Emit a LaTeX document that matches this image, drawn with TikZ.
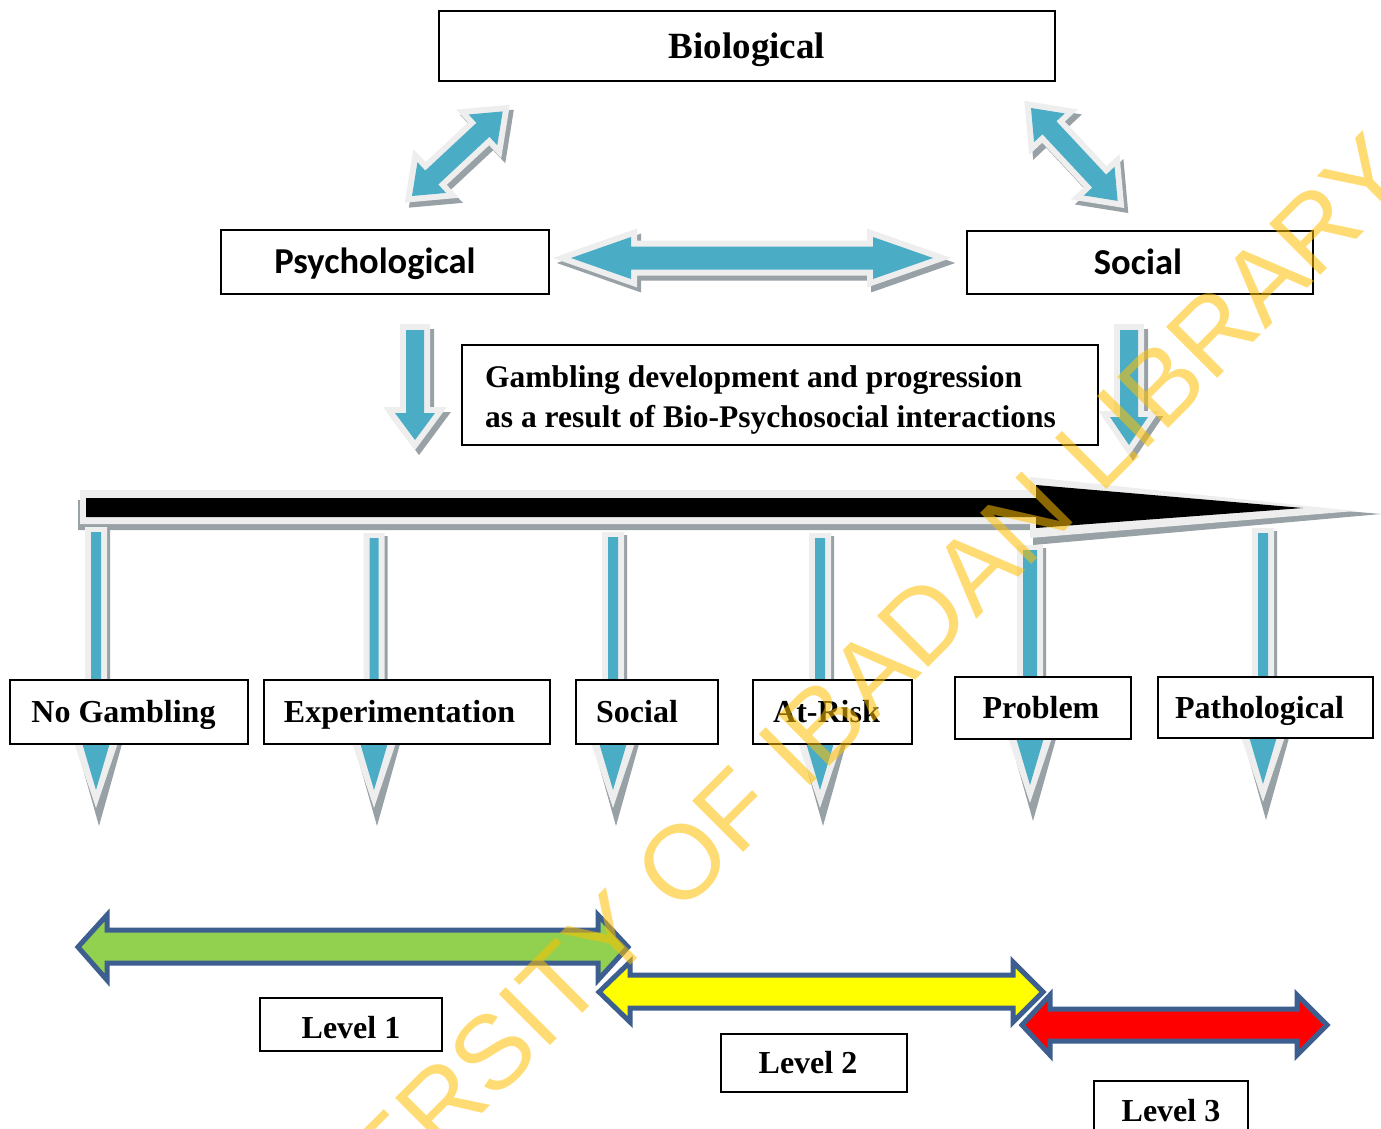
\documentclass[tikz,border=0pt]{standalone}
\usepackage{fontspec}
\setmainfont{Liberation Serif}
\newfontfamily\calibfont{Carlito}
\newfontfamily\wmfont{Liberation Sans}
\definecolor{arrowblue}{HTML}{4BACC6}
\definecolor{lgt}{HTML}{EEEEEE}
\definecolor{shd}{HTML}{98A1A6}
\definecolor{lvlline}{HTML}{3D5F8F}
\definecolor{lvlgreen}{HTML}{92D050}
\definecolor{lvlyellow}{HTML}{FFFF00}
\definecolor{lvlred}{HTML}{FF0000}
\definecolor{wm}{HTML}{FFC000}
% double block arrow along x: length, shaft half-width, head half-width, head length
\newcommand{\dblpoly}[4]{(0,0) -- (#4,#3) -- (#4,#2) -- ({#1-#4},#2) -- ({#1-#4},#3) -- (#1,0) -- ({#1-#4},-#3) -- ({#1-#4},-#2) -- (#4,-#2) -- (#4,-#3) -- cycle}
% single block arrow along x
\newcommand{\sglpoly}[4]{(0,#2) -- ({#1-#4},#2) -- ({#1-#4},#3) -- (#1,0) -- ({#1-#4},-#3) -- ({#1-#4},-#2) -- (0,-#2) -- cycle}
\newcommand{\blockarrow}[3]{%
  \begin{scope}[shift={(4,5)}]
    \begin{scope}[shift={#1},rotate=#2]
      \path[fill=shd,draw=shd,line width=12pt,line join=miter] #3;
    \end{scope}
  \end{scope}
  \begin{scope}[shift={#1},rotate=#2]
    \path[fill=lgt,draw=lgt,line width=12pt,line join=miter] #3;
    \path[fill=arrowblue] #3;
  \end{scope}}
% stage arrow: centre x, top y, box bottom y, stem half-width
\newcommand{\stagearrow}[4]{%
  \fill[shd] ({#1-#4-3},{#2-2}) -- ({#1+#4+9},{#2-2}) -- ({#1+#4+9},{#3-25}) -- ({#1+33},{#3-25}) -- ({#1+3},{#3+82}) -- ({#1-27},{#3-25}) -- ({#1-#4-3},{#3-25}) -- cycle;
  \fill[lgt] ({#1-#4-6},{#2-5}) -- ({#1+#4+6},{#2-5}) -- ({#1+#4+6},{#3-25}) -- ({#1+30},{#3-25}) -- (#1,{#3+64}) -- ({#1-30},{#3-25}) -- ({#1-#4-6},{#3-25}) -- cycle;
  \fill[arrowblue] ({#1-#4},#2) -- ({#1+#4},#2) -- ({#1+#4},{#3-25}) -- ({#1+21},{#3-25}) -- (#1,{#3+46}) -- ({#1-21},{#3-25}) -- ({#1-#4},{#3-25}) -- cycle;}
% shift a centred label to the left by half of #1 pt
\newcommand{\shl}[2]{\hspace*{-#1pt}#2}
\tikzset{
  boxbase/.style={draw=black, line width=1.5pt, fill=white, inner sep=0pt},
  serifbox/.style={boxbase, font=\fontsize{32}{38}\selectfont\bfseries, text height=21pt, text depth=0pt},
  biobox/.style={boxbase, font=\fontsize{37}{42}\selectfont\bfseries, text height=24.5pt, text depth=0pt},
  calibbox/.style={boxbase, font=\calibfont\bfseries\fontsize{36.5}{40}\selectfont, text height=23pt, text depth=0pt},
  gtext/.style={inner sep=0pt, font=\fontsize{31.5}{40}\selectfont\bfseries, align=left},
  lvlarrow/.style={draw=lvlline, line width=5pt, line join=miter}
}
\begin{document}
\begin{tikzpicture}[x=1pt, y=-1pt]
\useasboundingbox (0,0) rectangle (1381,1129);
\clip (0,0) rectangle (1381,1129);
\fill[white] (0,0) rectangle (1381,1129);

% ---- top block arrows ----
\blockarrow{(412,196)}{43}{\dblpoly{124}{9.5}{21}{27}}
\blockarrow{(1031,108)}{-47}{\dblpoly{127}{9.5}{21}{27}}
\blockarrow{(571,258)}{0}{\dblpoly{362}{11.5}{21}{60}}
\blockarrow{(415,330)}{-90}{\sglpoly{110}{9}{20}{27}}
\blockarrow{(1129,330)}{-90}{\sglpoly{115}{9}{19}{28}}

% ---- top boxes ----
\node[biobox, minimum width=616pt, minimum height=70pt] (bio) at (747,46) {Biological};
\node[calibbox, minimum width=328pt, minimum height=64pt] (psy) at (385,262) {\shl{20}{Psychological}};
\node[calibbox, minimum width=346pt, minimum height=63pt] (soc) at (1140,262.5) {\shl{4}{Social}};
\node[boxbase, minimum width=636pt, minimum height=100pt] (gamb) at (780,395) {};
\node[gtext, anchor=north west] (gambtext) at (485,365) {Gambling development and progression\\as a result of Bio-Psychosocial interactions};

% ---- black time-line arrow ----
\fill[shd] (78,500) -- (1033,500) -- (1033,484) -- (1381,514) -- (1033,545) -- (1033,530) -- (78,530) -- cycle;
\fill[lgt] (80,490) -- (1030,490) -- (1030,477) -- (1355,511) -- (1030,538) -- (1030,524) -- (80,524) -- cycle;
\fill[black] (86,498) -- (1036,498) -- (1036,485) -- (1303,508) -- (1036,528) -- (1036,517) -- (86,517) -- cycle;

% ---- stage arrows ----
\stagearrow{96}{532}{744}{5}
\stagearrow{374}{538}{744}{4.5}
\stagearrow{613}{537}{744}{5}
\stagearrow{820}{538}{744}{5}
\stagearrow{1030}{550}{739}{7}
\stagearrow{1263}{533}{738}{5}

% ---- stage boxes ----
\node[serifbox, minimum width=238pt, minimum height=64pt] (s1) at (129,712) {\shl{11}{No Gambling}};
\node[serifbox, minimum width=286pt, minimum height=64pt] (s2) at (407,712) {\shl{15}{Experimentation}};
\node[serifbox, minimum width=142pt, minimum height=64pt] (s3) at (647,712) {\shl{20}{Social}};
\node[serifbox, minimum width=159pt, minimum height=64pt] (s4) at (832.5,712) {\shl{12}{At-Risk}};
\node[serifbox, minimum width=176pt, minimum height=62pt] (s5) at (1043,708) {\shl{4}{Problem}};
\node[serifbox, minimum width=215pt, minimum height=61pt] (s6) at (1265.5,707.5) {\shl{12}{Pathological}};

% ---- level arrows ----
\filldraw[lvlarrow, fill=lvlgreen] (78,947) -- (107,915) -- (107,930) -- (598,930) -- (598,915) -- (628,947) -- (598,980) -- (598,963) -- (107,963) -- (107,980) -- cycle;
\filldraw[lvlarrow, fill=lvlyellow] (599,992) -- (630,962) -- (630,975) -- (1013,975) -- (1013,962) -- (1043,992) -- (1013,1022) -- (1013,1008) -- (630,1008) -- (630,1022) -- cycle;
\filldraw[lvlarrow, fill=lvlred] (1022,1025) -- (1050,995) -- (1050,1009) -- (1297,1009) -- (1297,995) -- (1327,1025) -- (1297,1055) -- (1297,1041) -- (1050,1041) -- (1050,1055) -- cycle;

% ---- level boxes ----
\node[serifbox, minimum width=182pt, minimum height=53pt, text height=27pt] (l1) at (351,1024.5) {Level 1};
\node[serifbox, minimum width=186pt, minimum height=58pt] (l2) at (814,1063) {\shl{12}{Level 2}};
\node[serifbox, minimum width=154pt, minimum height=59pt] (l3) at (1171,1110.5) {Level 3};

% ---- watermark ----
\node[rotate=45, anchor=base west, inner sep=0pt, text=wm, opacity=0.55,
      font=\wmfont\fontsize{105}{105}\selectfont] (wmark) at (213,1383) {UNIVERSITY OF IBADAN LIBRARY};
\end{tikzpicture}
\end{document}
